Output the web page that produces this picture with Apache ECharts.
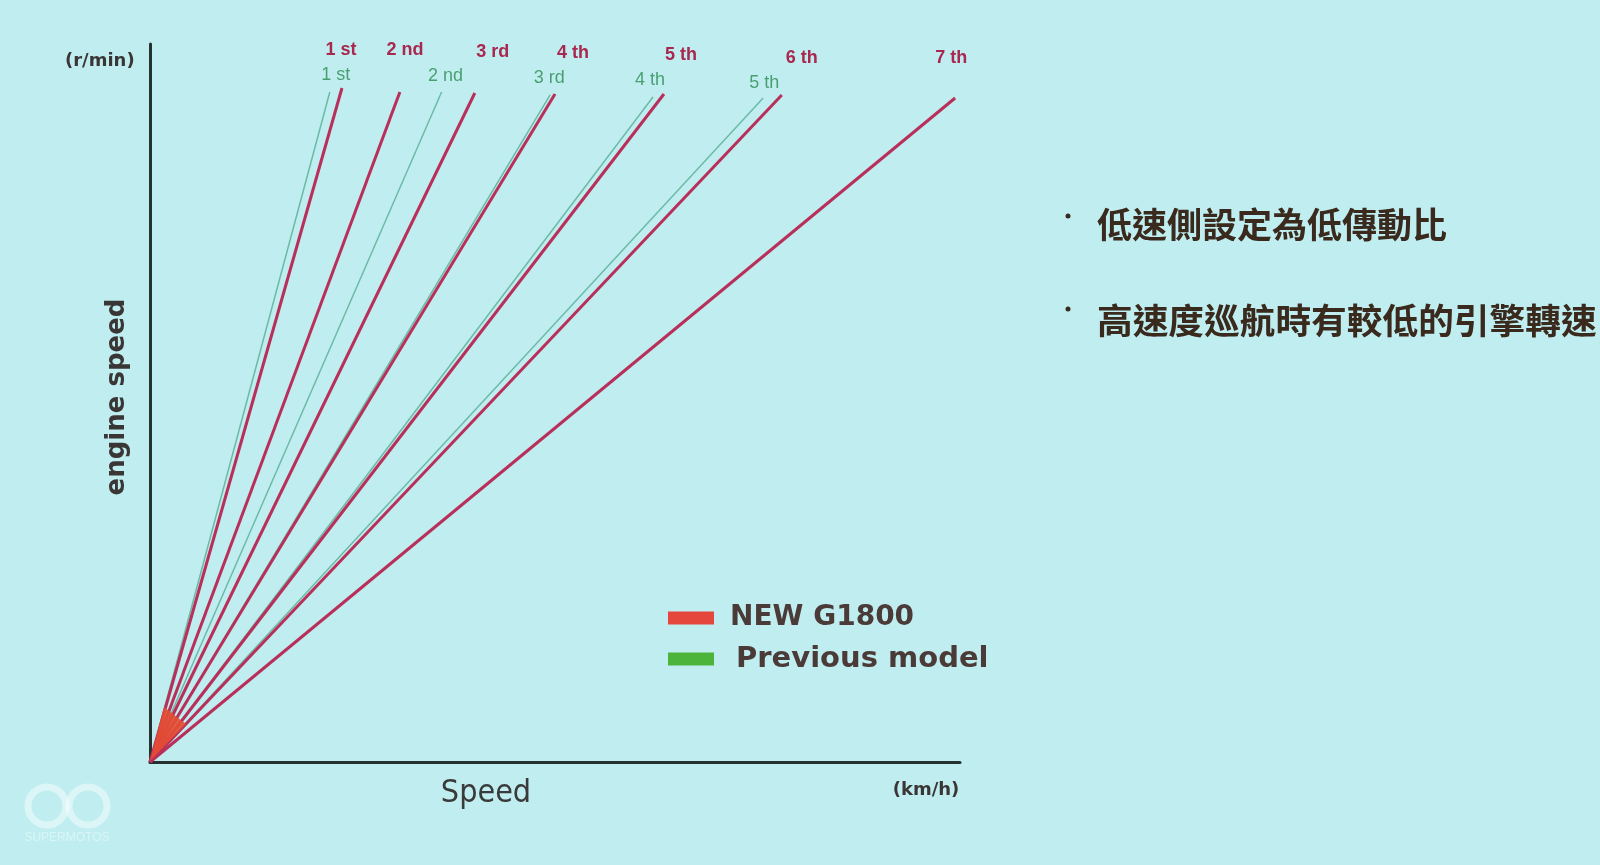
<!DOCTYPE html>
<html>
<head>
<meta charset="utf-8">
<script src="https://cdn.jsdelivr.net/npm/echarts@6/dist/echarts.min.js"></script>
<style>
html,body{margin:0;padding:0;background:#c0eef0;}
#c{width:1600px;height:865px;}
</style>
</head>
<body>
<div id="c"></div>
<script>
// ---- data ----
const newGears = ['1 st', '2 nd', '3 rd', '4 th', '5 th', '6 th', '7 th'];
const newSpeed = [47.4, 61.7, 80.2, 100.0, 126.9, 156.0, 198.8];
const newRpm = [7510, 7465, 7454, 7443, 7443, 7432, 7398];

const prevGears = ['1 st', '2 nd', '3 rd', '4 th', '5 th'];
const prevSpeed = [44.4, 72.0, 98.8, 124.2, 151.4];
const prevRpm = [7465, 7465, 7432, 7409, 7398];

const legendNames = ['NEW G1800', 'Previous model'];
const notes = ['低速側設定為低傳動比', '高速度巡航時有較低的引擎轉速'];

// ---- label placement (style only) ----
const newLabelOffset = [[-1, -38], [5, -42], [18, -41], [18, -41], [17, -39], [20, -37], [-4, -40]];
const prevLabelOffset = [[6, -17], [4, -16], [-1, -17], [-3, -17], [1, -15]];

const RED = '#b82f5a';
const GREEN = '#6cb9a6';

function gearSeries(name, gear, speed, rpm, offset, color, width, labelColor, bold) {
  return {
    type: 'line',
    name: name,
    symbol: 'circle',
    symbolSize: 0,
    showSymbol: true,
    silent: true,
    animation: false,
    lineStyle: { color: color, width: width },
    itemStyle: { color: color },
    data: [
      [0, 0],
      {
        value: [speed, rpm],
        label: {
          show: true,
          formatter: gear,
          position: 'inside',
          offset: offset,
          align: 'center',
          verticalAlign: 'middle',
          color: labelColor,
          fontSize: 18,
          fontWeight: bold ? 'bold' : 'normal',
          fontFamily: 'Liberation Sans, Arial, sans-serif'
        }
      }
    ]
  };
}

const series = [];
prevGears.forEach((g, i) => series.push(gearSeries(legendNames[1], g, prevSpeed[i], prevRpm[i], prevLabelOffset[i], GREEN, 1.5, '#4a9f72', false)));
newGears.forEach((g, i) => series.push(gearSeries(legendNames[0], g, newSpeed[i], newRpm[i], newLabelOffset[i], RED, 3, '#a8284f', true)));

const chart = echarts.init(document.getElementById('c'), null, { renderer: 'canvas' });
chart.setOption({
  backgroundColor: '#c0eef0',
  animation: false,
  grid: { left: 150, right: 640, top: 44, bottom: 103, containLabel: false },
  xAxis: {
    type: 'value', min: 0, max: 200,
    axisLine: { show: true, lineStyle: { color: '#263232', width: 3 } },
    axisTick: { show: false }, axisLabel: { show: false }, splitLine: { show: false }
  },
  yAxis: {
    type: 'value', min: 0, max: 8000,
    axisLine: { show: true, lineStyle: { color: '#263232', width: 3 } },
    axisTick: { show: false }, axisLabel: { show: false }, splitLine: { show: false }
  },
  legend: {
    orient: 'vertical',
    left: 668,
    top: 602,
    padding: 0,
    icon: 'rect',
    itemWidth: 46,
    itemHeight: 13,
    itemGap: 9,
    selectedMode: false,
    textStyle: {
      fontFamily: 'DejaVu Sans, sans-serif',
      fontWeight: 'bold',
      fontSize: 28,
      lineHeight: 32,
      color: '#4a3b38',
      padding: [0, 0, 0, 11]
    },
    data: [
      { name: legendNames[0], itemStyle: { color: '#e5473c' } },
      { name: legendNames[1], itemStyle: { color: '#4cb43a' }, textStyle: { padding: [0, 0, 0, 17], fontSize: 29 } }
    ]
  },
  series: series,
  graphic: [
    { type: 'polygon', z: 100, shape: { points: [[150, 761], [164, 707], [186, 724]] }, style: { fill: 'rgba(228,78,50,0.9)' } },
    { type: 'text', left: 65, top: 52, style: { text: '(r/min)', font: 'bold 18px "DejaVu Sans"', fill: '#3a3636' } },
    { type: 'text', x: 117, y: 397, rotation: Math.PI / 2, style: { text: 'engine speed', font: 'bold 26px "DejaVu Sans"', fill: '#3a3636', align: 'center', verticalAlign: 'middle' } },
    { type: 'text', x: 486, y: 794, style: { text: 'Speed', font: '32px "Liberation Sans Narrow", "DejaVu Sans Condensed", sans-serif', fill: '#3a3a3a', align: 'center', verticalAlign: 'middle' } },
    { type: 'text', x: 926, y: 790, style: { text: '(km/h)', font: 'bold 18px "DejaVu Sans"', fill: '#3a3636', align: 'center', verticalAlign: 'middle' } },
    { type: 'circle', shape: { cx: 1068, cy: 216, r: 2.5 }, style: { fill: '#3a2a1e' } },
    { type: 'circle', shape: { cx: 1068, cy: 309, r: 2.5 }, style: { fill: '#3a2a1e' } },
    { type: 'text', x: 1097, y: 225, style: { text: notes[0], font: 'bold 35px "Noto Sans CJK TC"', fill: '#3a2a1e', verticalAlign: 'middle' } },
    { type: 'text', x: 1097, y: 320, style: { text: notes[1], font: 'bold 35.7px "Noto Sans CJK TC"', fill: '#3a2a1e', verticalAlign: 'middle' } },
    { type: 'circle', shape: { cx: 47, cy: 806, r: 19 }, style: { fill: 'none', stroke: 'rgba(255,255,255,0.45)', lineWidth: 7 } },
    { type: 'circle', shape: { cx: 88, cy: 806, r: 19 }, style: { fill: 'none', stroke: 'rgba(255,255,255,0.45)', lineWidth: 7 } },
    { type: 'text', x: 67, y: 838, style: { text: 'SUPERMOTOS', font: '12px "Liberation Sans Narrow", sans-serif', fill: 'rgba(255,255,255,0.4)', align: 'center', verticalAlign: 'middle' } }
  ]
});
</script>
</body>
</html>
